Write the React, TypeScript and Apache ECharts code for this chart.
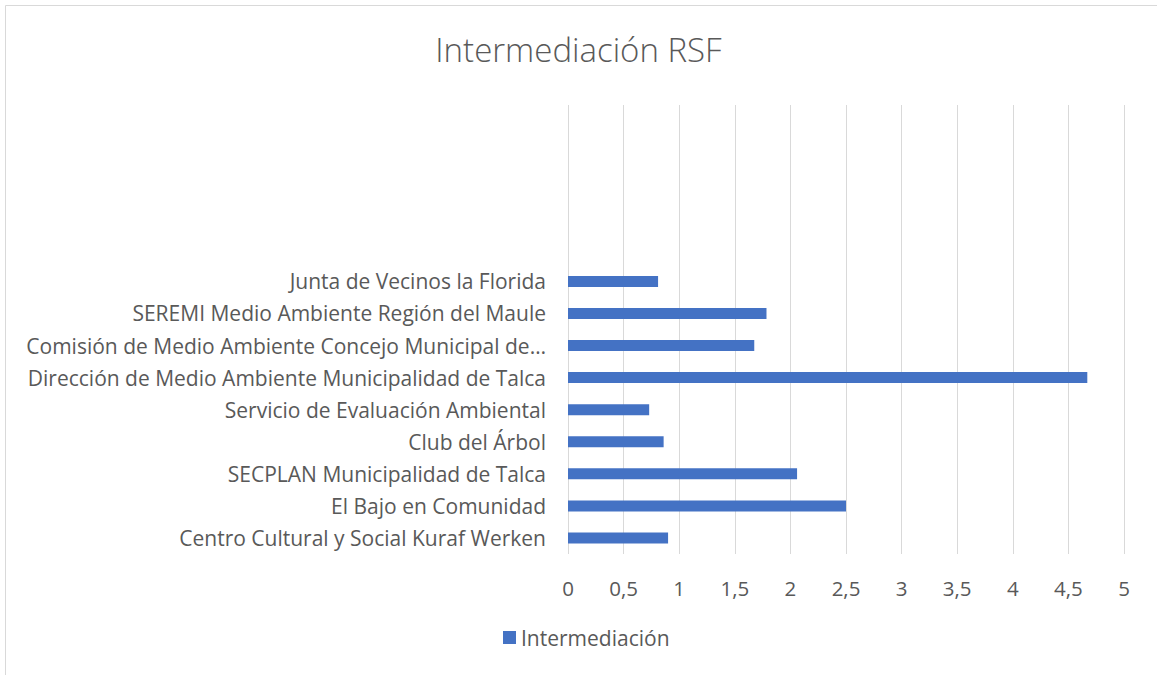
import React, { useEffect, useRef } from "react";
import * as echarts from "echarts";

const categories: string[] = [
  "Centro Cultural y Social Kuraf Werken",
  "El Bajo en Comunidad",
  "SECPLAN Municipalidad de Talca",
  "Club del Árbol",
  "Servicio de Evaluación Ambiental",
  "Dirección de Medio Ambiente Municipalidad de Talca",
  "Comisión de Medio Ambiente Concejo Municipal de…",
  "SEREMI Medio Ambiente Región del Maule",
  "Junta de Vecinos la Florida",
  "",
  " ",
  "  ",
  "   ",
  "    ",
];

const intermediacion: (number | null)[] = [
  0.9, 2.5, 2.06, 0.86, 0.73, 4.67, 1.675, 1.785, 0.81, null, null, null, null, null,
];

const xTicks = { min: 0, max: 5, interval: 0.5 };

const FONT = "Open Sans";
const TXT = "#595959";

export default function App() {
  const ref = useRef<HTMLDivElement>(null);
  useEffect(() => {
    if (!ref.current) return;
    const chart = echarts.init(ref.current, undefined, { renderer: "svg" });
    chart.setOption({
      animation: false,
      backgroundColor: "#ffffff",
      textStyle: { fontFamily: FONT },
      title: {
        text: "Intermediación RSF",
        left: "center",
        top: 28,
        textStyle: { fontFamily: FONT, fontSize: 33, fontWeight: 300, color: TXT },
      },
      graphic: [
        {
          type: "rect",
          shape: { x: 5.5, y: 5.5, width: 1170, height: 690 },
          style: { fill: "none", stroke: "#d9d9d9", lineWidth: 1 },
          silent: true,
          z: -1,
        },
      ],
      grid: { left: 568, right: 33, top: 105, bottom: 121, containLabel: false },
      legend: {
        data: ["Intermediación"],
        bottom: 22,
        left: 498,
        icon: "rect",
        itemWidth: 13,
        itemHeight: 13,
        itemGap: 6,
        textStyle: { fontFamily: FONT, fontSize: 21, color: TXT },
      },
      xAxis: {
        type: "value",
        min: xTicks.min,
        max: xTicks.max,
        interval: xTicks.interval,
        axisLine: { show: false },
        axisTick: { show: false },
        splitLine: { show: true, lineStyle: { color: "#d9d9d9", width: 1 } },
        axisLabel: {
          fontFamily: FONT,
          fontSize: 20.5,
          color: TXT,
          margin: 23,
          formatter: (v: number) => String(v).replace(".", ","),
        },
      },
      yAxis: {
        type: "category",
        data: categories,
        axisLine: { show: false },
        axisTick: { show: false },
        splitLine: { show: false },
        axisLabel: { fontFamily: FONT, fontSize: 21, color: TXT, margin: 22 },
      },
      series: [
        {
          name: "Intermediación",
          type: "bar",
          data: intermediacion,
          barWidth: 11,
          itemStyle: { color: "#4472c4" },
        },
      ],
    });
    return () => chart.dispose();
  }, []);
  return <div ref={ref} style={{ width: 1157, height: 675, position: "absolute", left: 0, top: 0 }} />;
}
